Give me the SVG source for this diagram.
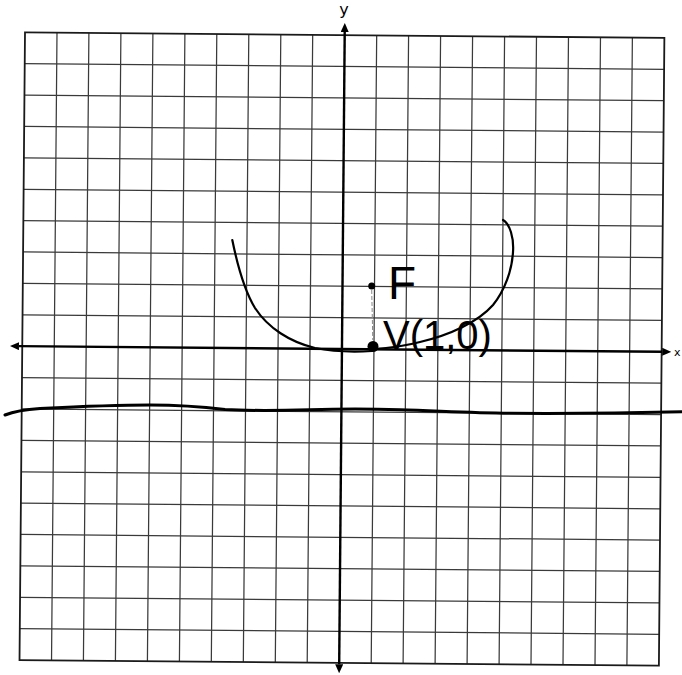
<svg xmlns="http://www.w3.org/2000/svg" width="682" height="675" viewBox="0 0 682 675">
  <style>
    .grid { fill: none; stroke: #3a3a3a; stroke-width: 1.25; }
    .frame { fill: none; stroke: #1a1a1a; stroke-width: 1.8; }
    .axis { fill: none; stroke: #000; stroke-width: 2.4; }
    .ink { fill: none; stroke: #000; stroke-width: 2.2; stroke-linecap: round; stroke-linejoin: round; }
    .wave { fill: none; stroke: #000; stroke-width: 3; stroke-linecap: round; }
    .guide { fill: none; stroke: #888; stroke-width: 1; stroke-dasharray: 4 2; }
    .label { font-family: "DejaVu Sans", sans-serif; fill: #000; }
    .hand { font-family: "Liberation Sans", Arial, sans-serif; fill: #000; }
  </style>
  <defs>
    <marker id="arrow" viewBox="0 -4 9 8" refX="0" refY="0" markerWidth="9" markerHeight="8" markerUnits="userSpaceOnUse" orient="auto-start-reverse">
      <path d="M0,-4 L9,0 L0,4 z" fill="#000"/>
    </marker>
  </defs>
  <rect width="682" height="675" fill="#fff"/>

  <g id="grid-and-axes" transform="rotate(0.5 25 32.3)">
    <g id="grid">
      <path class="grid" d="M57,32.3V660.1M88.9,32.3V660.1M120.9,32.3V660.1M152.9,32.3V660.1M184.9,32.3V660.1M216.8,32.3V660.1M248.8,32.3V660.1M280.8,32.3V660.1M312.7,32.3V660.1M376.7,32.3V660.1M408.6,32.3V660.1M440.6,32.3V660.1M472.6,32.3V660.1M504.6,32.3V660.1M536.5,32.3V660.1M568.5,32.3V660.1M600.5,32.3V660.1M632.4,32.3V660.1"/>
      <path class="grid" d="M25,63.7H664.4M25,95.1H664.4M25,126.5H664.4M25,157.9H664.4M25,189.3H664.4M25,220.6H664.4M25,252H664.4M25,283.4H664.4M25,314.8H664.4M25,377.6H664.4M25,409H664.4M25,440.4H664.4M25,471.8H664.4M25,503.2H664.4M25,534.5H664.4M25,565.9H664.4M25,597.3H664.4M25,628.7H664.4"/>
      <rect class="frame" x="25" y="32.3" width="639.4" height="627.8"/>
    </g>
    <g id="axes">
      <line id="y-axis" class="axis" x1="344.7" y1="29.2" x2="344.7" y2="661.5" marker-start="url(#arrow)" marker-end="url(#arrow)"/>
      <line id="x-axis" class="axis" x1="21.7" y1="346.2" x2="665" y2="346.2" marker-start="url(#arrow)" marker-end="url(#arrow)"/>
    </g>
  </g>

  <g id="axis-labels">
    <text class="label" x="344" y="15" font-size="16" text-anchor="middle">y</text>
    <text class="label" x="674" y="356" font-size="11">x</text>
  </g>

  <g id="directrix">
    <path class="wave" d="M5,415 C15,411 25,409.5 40,408.5 C80,406.5 110,405 150,405 C180,405 200,406.5 225,409.5 C250,411 280,410.5 310,409.8 C335,409 360,408.5 400,409.8 C440,411 470,413 510,413.3 C560,413.6 620,413.3 682,411.8"/>
  </g>

  <g id="parabola">
    <path class="ink" d="M232.3,240 C238,268 244,290 255,308 C268,328 290,342 315,348 C330,351 350,352.3 372,351"/>
    <path class="ink" d="M503,220 C510,224 514,238 513,252 C512,270 505,290 493,305 C478,322 450,335 420,342 C405,346 390,348 373,349"/>
  </g>

  <g id="focus">
    <line class="guide" x1="371.7" y1="290" x2="372.8" y2="340"/>
    <circle cx="371.7" cy="286" r="3.5" fill="#000"/>
    <text class="hand" x="388" y="299" font-size="46">F</text>
  </g>

  <g id="vertex">
    <circle cx="373" cy="346.5" r="5.5" fill="#000"/>
    <text class="hand" x="383" y="349" font-size="40">V(1,0)</text>
  </g>
</svg>
